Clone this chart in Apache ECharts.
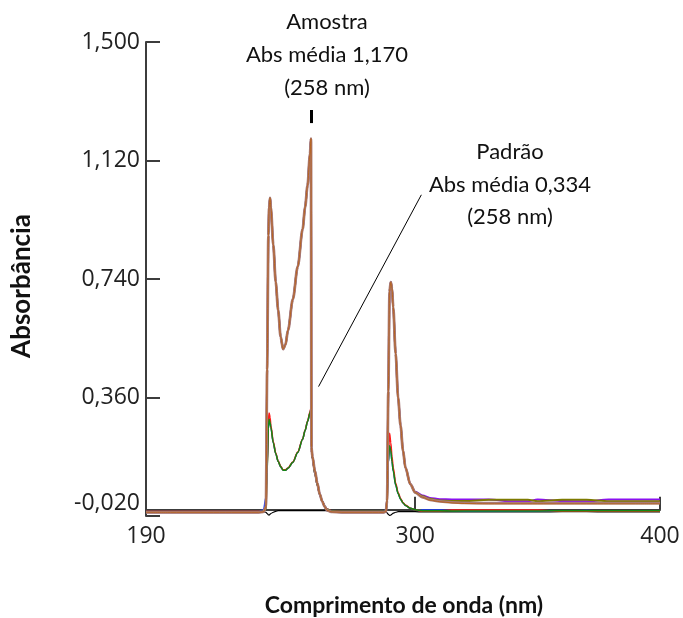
<!DOCTYPE html>
<html><head><meta charset="utf-8">
<script src="https://cdn.jsdelivr.net/npm/echarts@6/dist/echarts.min.js"></script>
<style>html,body{margin:0;padding:0;background:#fff}#c{width:683px;height:618px}</style>
</head><body><div id="c"></div>
<script>
// Wavelength (nm)
const wavelength = [190,200,210,220,230,236,238,239,239.5,240,240.3,240.7,241,242,243,244,245,246,247,248,250,252,254,255,256,257,257.4,257.6,258,259,260,261,262,263,264,266,270,275,280,285,287,288,288.5,289,289.5,290,290.5,291,292,293,294,295,296,298,300,303,306,310,315,320,330,340,346,350,360,370,379,390,400];

// Blank (black)
const blank = [-0.006,-0.006,-0.006,-0.006,-0.006,-0.006,-0.006,-0.008,-0.012,-0.016,-0.017,-0.014,-0.012,-0.008,-0.005,-0.003,-0.003,-0.003,-0.003,-0.003,-0.003,-0.003,-0.003,-0.003,-0.003,-0.003,-0.003,-0.003,-0.003,-0.003,-0.003,-0.003,-0.003,-0.003,-0.003,-0.003,-0.003,-0.003,-0.003,-0.003,-0.003,-0.006,-0.010,-0.015,-0.018,-0.017,-0.014,-0.011,-0.008,-0.006,-0.006,-0.006,-0.006,-0.006,-0.006,-0.007,-0.007,-0.007,-0.007,-0.007,-0.007,-0.007,-0.007,-0.007,-0.006,-0.006,-0.007,-0.007,-0.007];

// Padrão (standard) replicates
const padraoBlue = [-0.006,-0.006,-0.006,-0.006,-0.006,-0.006,0.0,0.04,0.15,0.26,0.29,0.28,0.265,0.215,0.18,0.155,0.138,0.127,0.127,0.133,0.152,0.184,0.226,0.254,0.283,0.31,0.322,0.19,0.165,0.115,0.078,0.048,0.028,0.012,0.002,-0.004,-0.005,-0.005,-0.005,-0.005,-0.005,0.0,0.03,0.15,0.205,0.19,0.155,0.125,0.08,0.052,0.034,0.022,0.014,0.005,0.0,-0.001,-0.001,-0.001,-0.002,-0.005,-0.005,-0.005,-0.005,-0.005,-0.005,-0.002,-0.005,-0.005,-0.005];
const padraoRed = [-0.006,-0.006,-0.006,-0.006,-0.006,-0.006,-0.005,0.0,0.13,0.28,0.31,0.295,0.27,0.218,0.182,0.156,0.139,0.128,0.128,0.134,0.153,0.185,0.227,0.255,0.284,0.313,0.326,0.19,0.165,0.115,0.078,0.048,0.028,0.012,0.002,-0.004,-0.005,-0.005,-0.005,-0.005,-0.005,-0.004,0.02,0.17,0.245,0.215,0.17,0.135,0.085,0.055,0.036,0.023,0.015,0.005,0.0,-0.004,-0.004,-0.004,-0.001,-0.001,-0.001,-0.001,-0.001,-0.001,-0.005,-0.005,-0.005,-0.005,-0.005];
const padraoGreen = [-0.006,-0.006,-0.006,-0.006,-0.006,-0.006,-0.005,0.0,0.12,0.26,0.29,0.28,0.265,0.215,0.18,0.155,0.138,0.127,0.127,0.133,0.152,0.184,0.226,0.254,0.283,0.31,0.322,0.19,0.165,0.115,0.078,0.048,0.028,0.012,0.002,-0.004,-0.005,-0.005,-0.005,-0.005,-0.005,-0.004,0.02,0.15,0.205,0.19,0.155,0.125,0.08,0.052,0.034,0.022,0.014,0.005,0.0,-0.003,-0.003,-0.003,-0.004,-0.004,-0.004,-0.004,-0.004,-0.004,-0.003,-0.003,-0.003,-0.003,-0.003];

// Amostra (sample) replicates
const amostraPurple = [-0.008,-0.008,-0.008,-0.008,-0.008,-0.008,-0.007,0.01,0.45,0.88,0.97,1.0,0.97,0.85,0.73,0.64,0.555,0.515,0.53,0.575,0.675,0.78,0.9,0.97,1.04,1.14,1.19,0.2,0.17,0.125,0.085,0.05,0.027,0.01,-0.002,-0.007,-0.008,-0.008,-0.008,-0.008,-0.008,-0.006,0.03,0.38,0.7,0.73,0.71,0.65,0.5,0.36,0.27,0.19,0.135,0.082,0.058,0.046,0.038,0.034,0.033,0.033,0.033,0.027,0.027,0.033,0.028,0.027,0.033,0.033,0.033];
const amostraOlive = [-0.008,-0.008,-0.008,-0.008,-0.008,-0.008,-0.007,0.01,0.45,0.88,0.97,1.0,0.97,0.85,0.73,0.64,0.555,0.515,0.53,0.575,0.675,0.78,0.9,0.97,1.04,1.14,1.19,0.2,0.17,0.125,0.085,0.05,0.027,0.01,-0.002,-0.007,-0.008,-0.008,-0.008,-0.008,-0.008,-0.006,0.03,0.38,0.7,0.73,0.71,0.65,0.5,0.36,0.27,0.19,0.135,0.082,0.056,0.043,0.035,0.03,0.028,0.028,0.032,0.032,0.032,0.027,0.032,0.032,0.027,0.027,0.027];
const amostraRosy = [-0.008,-0.008,-0.008,-0.008,-0.008,-0.008,-0.007,0.01,0.45,0.88,0.97,1.0,0.97,0.85,0.73,0.64,0.555,0.515,0.53,0.575,0.675,0.78,0.9,0.97,1.04,1.14,1.19,0.2,0.17,0.125,0.085,0.05,0.027,0.01,-0.002,-0.007,-0.008,-0.008,-0.008,-0.008,-0.008,-0.006,0.03,0.38,0.7,0.73,0.71,0.65,0.5,0.36,0.27,0.19,0.135,0.082,0.055,0.04,0.032,0.027,0.024,0.022,0.021,0.021,0.021,0.021,0.021,0.021,0.021,0.021,0.021];
const amostraBrown = [-0.008,-0.008,-0.008,-0.008,-0.008,-0.008,-0.007,0.01,0.45,0.88,0.97,1.0,0.97,0.85,0.73,0.64,0.555,0.515,0.53,0.575,0.675,0.78,0.9,0.97,1.04,1.14,1.19,0.2,0.17,0.125,0.085,0.05,0.027,0.01,-0.002,-0.007,-0.008,-0.008,-0.008,-0.008,-0.008,-0.006,0.03,0.38,0.7,0.73,0.71,0.65,0.5,0.36,0.27,0.19,0.135,0.082,0.055,0.04,0.031,0.026,0.022,0.02,0.019,0.019,0.019,0.019,0.019,0.019,0.019,0.019,0.019];

// Axis ticks
const xTicks = [190, 300, 400];
const yTicks = [-0.02, 0.36, 0.74, 1.12, 1.5];

// Annotation anchors (data coords)
const peakMarker = [[257.4, 1.24], [257.4, 1.282]];
const leader = [[302.5, 1.01], [260.5, 0.395]];
const amostraText = ['Amostra', 'Abs média 1,170', '(258 nm)'];
const padraoText = ['Padrão', 'Abs média 0,334', '(258 nm)'];
const yTitle = 'Absorbância';
const xTitle = 'Comprimento de onda (nm)';

const chart = echarts.init(document.getElementById('c'));
function mk(name, arr, color, width, extra) {
  return Object.assign({
    type: 'line', name: name,
    data: wavelength.map((w, i) => [w, arr[i]]),
    showSymbol: false, symbol: 'none', smooth: 0.3, smoothMonotone: 'x',
    lineStyle: { color: color, width: width }, itemStyle: { color: color },
    animation: false, silent: true
  }, extra || {});
}
const fmtY = v => {
  const s = (v < 0 ? '-' : '') + Math.abs(v).toFixed(3).replace('.', ',');
  return v < 0 ? '{lo|' + s + '}' : s;
};
const axisCol = '#3c3c3c';
const lblFont = 'Open Sans';
const txtFont = 'Lato';

const series = [
  mk('Branco', blank, '#000000', 1.2),
  mk('Padrão 3', padraoBlue, '#1a3cff', 1.5),
  mk('Padrão 2', padraoRed, '#ff1a1a', 1.6),
  mk('Padrão 1', padraoGreen, '#138a13', 1.5, {
    markLine: { silent: true, symbol: 'none', animation: false, label: { show: false },
      lineStyle: { color: '#000', width: 1, type: 'solid' },
      data: [[{ coord: leader[0] }, { coord: leader[1] }]] }
  }),
  mk('Amostra 3', amostraPurple, '#8a10f0', 2),
  mk('Amostra 2', amostraOlive, '#7d7a00', 2),
  mk('Amostra 1', amostraRosy, '#a87a78', 2.8, {
    markLine: { silent: true, symbol: 'none', animation: false, label: { show: false },
      lineStyle: { color: '#000', width: 3, type: 'solid' },
      data: [[{ coord: peakMarker[0] }, { coord: peakMarker[1] }]] }
  }),
  mk('Amostra 4', amostraBrown, '#b8641e', 1)
];

const graphics = [];
const aY = [22, 55, 88], pY = [152, 185, 217];
amostraText.forEach((t, i) => graphics.push({ type: 'text', x: 327, y: aY[i],
  style: { text: t, fill: '#111', font: '22px ' + txtFont, textAlign: 'center', textVerticalAlign: 'middle' } }));
padraoText.forEach((t, i) => graphics.push({ type: 'text', x: 510, y: pY[i],
  style: { text: t, fill: '#111', font: '22px ' + txtFont, textAlign: 'center', textVerticalAlign: 'middle' } }));
graphics.push({ type: 'text', x: 22, y: 286, rotation: Math.PI / 2,
  style: { text: yTitle, fill: '#111', font: 'bold 26px ' + txtFont, textAlign: 'center', textVerticalAlign: 'middle' } });
graphics.push({ type: 'text', x: 404, y: 606,
  style: { text: xTitle, fill: '#111', font: 'bold 23px ' + txtFont, textAlign: 'center', textVerticalAlign: 'middle' } });

chart.setOption({
  animation: false,
  backgroundColor: '#fff',
  grid: { left: 146, right: 23, top: 42, bottom: 102, containLabel: false, outerBoundsMode: 'none' },
  xAxis: {
    type: 'value', min: 190, max: 400,
    axisLine: { show: true, lineStyle: { color: axisCol, width: 2 } },
    axisTick: { show: true, inside: true, length: 13, customValues: xTicks, lineStyle: { color: axisCol, width: 2 } },
    axisLabel: { customValues: xTicks, fontFamily: lblFont, fontSize: 23, color: '#222', margin: 9 },
    splitLine: { show: false }
  },
  yAxis: {
    type: 'value', min: -0.02, max: 1.5,
    axisLine: { show: true, lineStyle: { color: axisCol, width: 2 } },
    axisTick: { show: true, inside: true, length: 14, customValues: yTicks, lineStyle: { color: axisCol, width: 2 } },
    axisLabel: { customValues: yTicks, formatter: fmtY, fontFamily: lblFont, fontSize: 23, color: '#222', margin: 6,
      rich: { lo: { fontFamily: lblFont, fontSize: 23, color: '#222', padding: [0, 0, 26, 0] } } },
    splitLine: { show: false }
  },
  series: series,
  graphic: graphics
});
</script></body></html>
